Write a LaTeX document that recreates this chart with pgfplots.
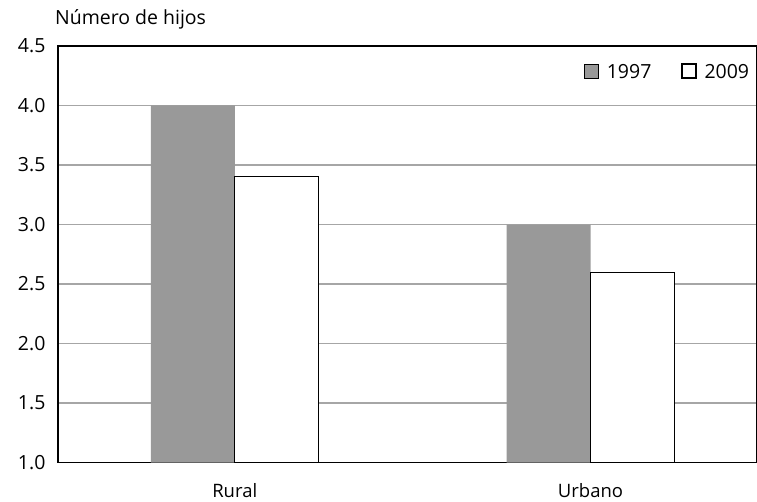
\documentclass[border=0pt]{standalone}
\usepackage{pgfplots}
\pgfplotsset{compat=1.18}
\usepackage{fontspec}
\setmainfont{Open Sans}
\definecolor{barGray}{HTML}{999999}
\definecolor{gridGray}{HTML}{A6A6A6}

\begin{document}
\begin{tikzpicture}
\begin{axis}[
  scale only axis, clip mode=individual,
  width=699pt, height=417pt,
  ybar=0pt, bar width=84pt,
  xmin=-0.497, xmax=1.466,
  ymin=1, ymax=4.5,
  xtick={0,1}, xticklabels={Rural, Urbano},
  ytick={1,1.5,...,4.5},
  /pgf/number format/fixed, /pgf/number format/fixed zerofill,
  /pgf/number format/precision=1, /pgf/number format/assume math mode=true,
  yticklabel style={xshift=-9pt, font=\fontsize{19.5}{22}\selectfont},
  xticklabel style={yshift=-17pt, font=\fontsize{18.5}{21}\selectfont},
  major tick length=0pt,
  ymajorgrids, grid style={gridGray, line width=1.3pt},
  axis line style={black, line width=1.3pt},
  legend style={at={(1,1)}, anchor=north east, xshift=-2pt, yshift=-14pt,
    draw=none, fill=none, legend columns=-1,
    font=\fontsize{19.5}{22}\selectfont,
    /tikz/every odd column/.append style={column sep=6pt},
    /tikz/every even column/.append style={column sep=28pt}},
  legend image code/.code={\draw[#1] (0pt,-6pt) rectangle (14pt,8pt);},
]
\addplot[fill=barGray, draw=none] coordinates {(0,4.0) (1,3.0)};
\addplot[fill=white, draw=black, line width=1.2pt] coordinates {(0,3.4) (1,2.6)};
\legend{1997, 2009}
\coordinate (ll) at (rel axis cs:0,0);
\coordinate (ur) at (rel axis cs:1,1);
\node[anchor=base west, font=\fontsize{19.5}{22}\selectfont, inner sep=0pt] at ([xshift=-3pt, yshift=21pt]rel axis cs:0,1) {Número de hijos};
\end{axis}
\pgfresetboundingbox
\path[use as bounding box] ([shift={(-58pt,-39pt)}]ll) rectangle ([shift={(0.7pt,46pt)}]ur);
\end{tikzpicture}
\end{document}
